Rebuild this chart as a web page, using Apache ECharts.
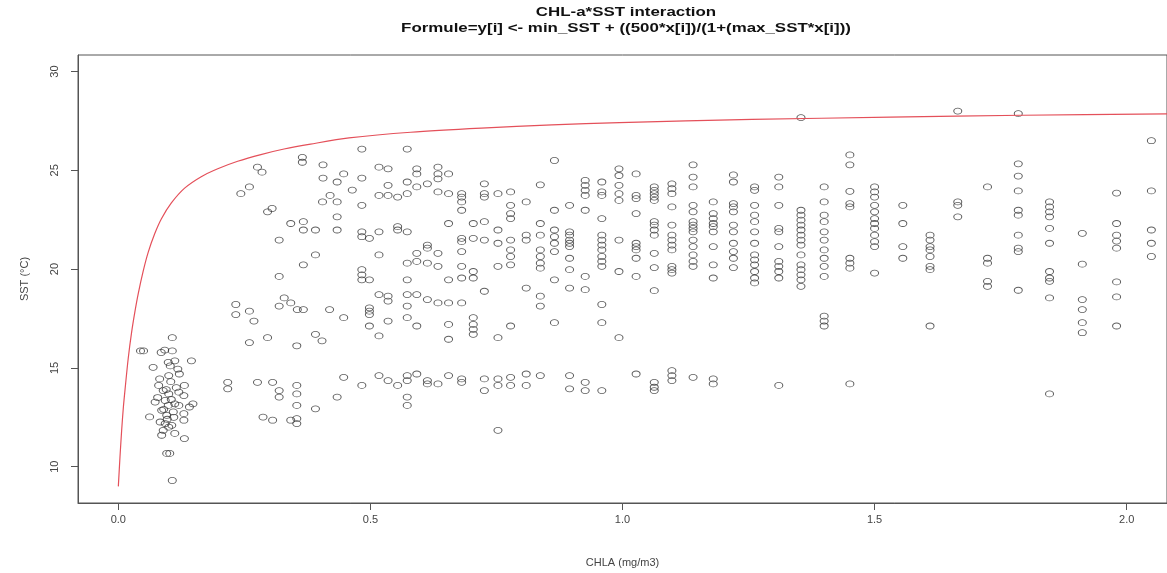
<!DOCTYPE html>
<html>
<head>
<meta charset="utf-8">
<title>CHL-a*SST interaction</title>
<script src="https://cdn.jsdelivr.net/npm/echarts@6/dist/echarts.min.js"></script>
<style>
  html, body { margin: 0; padding: 0; background: #fff; }
  #main { width: 1167px; height: 573px; }
</style>
</head>
<body>
<div id="main"></div>
<script>
// tick positions of the R plot
const xTicks = [0, 0.5, 1, 1.5, 2];
const yTicks = [10, 15, 20, 25, 30];

// red fitted curve
const curveChla = [0, 0.0033, 0.0066, 0.0099, 0.0131, 0.0197, 0.0263, 0.0329, 0.0394, 0.0493, 0.0592,
  0.0723, 0.0855, 0.1052, 0.1315, 0.1644, 0.1972, 0.2367, 0.2827, 0.3287, 0.3813, 0.4576, 0.58, 0.72,
  0.86, 0.994, 1.257, 1.531, 1.793, 2.08];
const curveSst = [9.0, 10.5, 11.84, 12.98, 13.85, 15.5, 16.8, 17.85, 18.75, 19.9, 20.85,
  21.8, 22.55, 23.35, 24.1, 24.68, 25.08, 25.46, 25.8, 26.08, 26.33, 26.64, 26.93, 27.14,
  27.3, 27.42, 27.58, 27.69, 27.79, 27.86];

// low chla cluster (x ~ 0.1)
const clusterLow = [
  [0.044, 15.86], [0.05, 15.86], [0.107, 16.53], [0.085, 15.78], [0.107, 15.86], [0.099, 15.28],
  [0.112, 15.36], [0.118, 14.94], [0.145, 15.36], [0.069, 15.03], [0.121, 14.69], [0.082, 14.44],
  [0.1, 14.61], [0.08, 14.11], [0.131, 14.11], [0.089, 13.85], [0.1, 13.68], [0.12, 13.77],
  [0.13, 13.6], [0.148, 13.18], [0.073, 13.27], [0.093, 13.35], [0.099, 13.1], [0.112, 13.18],
  [0.141, 13.02], [0.086, 12.85], [0.062, 12.52], [0.096, 12.6], [0.109, 12.77], [0.13, 12.68],
  [0.13, 12.35], [0.083, 12.26], [0.093, 12.18], [0.106, 12.09], [0.089, 11.84], [0.112, 11.68],
  [0.086, 11.59], [0.131, 11.42], [0.096, 10.67], [0.102, 10.67], [0.107, 9.3], [0.095, 13.9],
  [0.104, 14.3], [0.09, 12.9], [0.11, 12.5], [0.1, 12.0], [0.12, 13.1], [0.078, 13.5],
  [0.115, 14.0], [0.092, 15.9], [0.103, 15.1], [0.097, 12.4], [0.105, 13.4]
];

// scattered points between 0.2 and 0.47
const scatterLeft = [
  [0.276, 25.16], [0.285, 24.91], [0.243, 23.82], [0.26, 24.16], [0.296, 22.9], [0.305, 23.07],
  [0.365, 25.66], [0.365, 25.41], [0.406, 25.28], [0.406, 24.61], [0.434, 24.41], [0.447, 24.82],
  [0.42, 23.73], [0.434, 23.4], [0.405, 23.4], [0.434, 22.65], [0.434, 21.98], [0.342, 22.31],
  [0.367, 22.4], [0.367, 21.98], [0.391, 21.98], [0.319, 21.47], [0.391, 20.72], [0.367, 20.22],
  [0.319, 19.63], [0.233, 18.21], [0.233, 17.7], [0.26, 17.87], [0.269, 17.37], [0.319, 18.13],
  [0.329, 18.54], [0.342, 18.29], [0.355, 17.95], [0.367, 17.95], [0.391, 16.7], [0.404, 16.37],
  [0.419, 17.95], [0.447, 17.54], [0.26, 16.28], [0.296, 16.53], [0.354, 16.12], [0.447, 14.52],
  [0.217, 14.27], [0.217, 13.94], [0.276, 14.27], [0.306, 14.27], [0.319, 13.85], [0.319, 13.52],
  [0.354, 14.11], [0.354, 13.68], [0.354, 13.1], [0.287, 12.51], [0.306, 12.35], [0.342, 12.35],
  [0.354, 12.43], [0.354, 12.18], [0.391, 12.93], [0.434, 13.52], [0.464, 24.0]
];

// the vertical columns of points (one chla value, several sst values)
const columnChla = [0.483, 0.498, 0.517, 0.535, 0.554, 0.573, 0.592, 0.613, 0.634, 0.655, 0.681, 0.704,
  0.726, 0.753, 0.778, 0.809, 0.837, 0.865, 0.895, 0.926, 0.959, 0.993, 1.027, 1.063, 1.098, 1.14,
  1.18, 1.22, 1.262, 1.31, 1.354, 1.40, 1.451, 1.50, 1.556, 1.61, 1.665, 1.724, 1.785, 1.847, 1.912,
  1.98, 2.049];
const columnSst = [
  [26.08, 24.61, 23.23, 21.89, 21.64, 19.97, 19.71, 19.46, 14.11],
  [21.56, 19.46, 18.04, 17.87, 17.70, 17.12],
  [25.16, 23.73, 21.89, 20.72, 18.71, 16.62, 14.61],
  [25.08, 24.24, 23.73, 18.63, 18.38, 17.37, 14.36],
  [23.65, 22.15, 21.98, 14.11],
  [26.08, 24.41, 23.82, 21.89, 20.30, 19.46, 18.71, 18.13, 17.54, 14.61, 14.36, 13.52, 13.10],
  [25.08, 24.82, 24.16, 20.80, 20.39, 18.71, 17.12, 14.69],
  [24.32, 21.22, 21.06, 20.30, 18.46, 14.36, 14.19],
  [25.16, 24.82, 24.57, 23.91, 20.80, 20.14, 18.29, 14.19],
  [24.82, 23.82, 22.31, 19.46, 18.29, 17.20, 16.45, 14.61],
  [23.82, 23.65, 23.40, 22.98, 21.56, 21.39, 20.89, 20.14, 19.55, 18.29, 14.44, 14.27],
  [22.31, 21.56, 19.88, 19.55, 17.54, 17.20, 16.95, 16.70],
  [24.32, 23.82, 23.65, 22.40, 21.47, 18.88, 14.44, 13.85],
  [23.82, 21.98, 21.31, 20.14, 16.53, 14.44, 14.11, 11.84],
  [23.91, 23.23, 22.81, 22.56, 21.47, 20.97, 20.64, 20.22, 17.12, 14.52, 14.11],
  [23.40, 21.72, 21.47, 19.04, 14.69, 14.11],
  [24.27, 22.31, 21.72, 20.97, 20.64, 20.30, 20.05, 18.63, 18.13, 14.61],
  [25.50, 22.98, 21.98, 21.64, 21.31, 20.89, 19.46, 17.29],
  [23.23, 21.89, 21.72, 21.47, 21.31, 21.14, 20.55, 19.97, 19.04, 14.61, 13.94],
  [24.49, 24.24, 23.99, 23.73, 22.98, 19.63, 18.96, 14.27, 13.85],
  [24.41, 23.91, 23.73, 22.56, 21.72, 21.47, 21.22, 20.97, 20.64, 20.39, 20.14, 18.21, 17.29, 13.85],
  [25.08, 24.74, 24.24, 23.82, 23.48, 21.47, 19.88, 16.53],
  [24.82, 23.73, 23.57, 22.81, 21.31, 21.14, 20.97, 20.55, 19.63, 14.69],
  [24.16, 23.99, 23.82, 23.65, 23.48, 22.40, 22.23, 21.98, 21.72, 20.80, 20.08, 18.91, 14.27, 14.02, 13.85],
  [24.32, 24.07, 23.82, 23.15, 22.23, 21.72, 21.47, 21.22, 20.97, 20.14, 19.97, 19.80, 14.86, 14.61, 14.36],
  [25.28, 24.66, 24.16, 23.23, 22.90, 22.40, 22.23, 22.06, 21.89, 21.47, 21.14, 20.72, 20.39, 20.14, 14.52],
  [23.40, 22.81, 22.56, 22.31, 22.15, 21.89, 21.14, 20.22, 19.55, 14.44, 14.19],
  [24.77, 24.41, 23.32, 23.15, 22.90, 22.23, 21.89, 21.31, 20.89, 20.55, 20.08],
  [24.16, 23.99, 23.23, 22.73, 22.40, 21.89, 21.31, 20.72, 20.47, 20.22, 19.88, 19.55, 19.30],
  [24.66, 24.16, 23.23, 22.06, 21.89, 21.14, 20.39, 20.14, 19.88, 19.55, 14.11],
  [27.67, 22.98, 22.73, 22.48, 22.23, 21.98, 21.72, 21.47, 21.22, 20.72, 20.22, 19.97, 19.71, 19.46, 19.13],
  [24.16, 23.40, 22.73, 22.40, 21.89, 21.47, 20.97, 20.55, 20.14, 19.63, 17.62, 17.37, 17.12],
  [25.78, 25.28, 23.94, 23.32, 23.15, 20.55, 20.30, 20.05, 14.19],
  [24.16, 23.91, 23.65, 23.23, 22.90, 22.56, 22.31, 22.06, 21.72, 21.39, 21.14, 19.80],
  [23.23, 22.31, 21.14, 20.55],
  [21.72, 21.47, 21.14, 20.97, 20.64, 20.14, 19.97, 17.12],
  [28.0, 23.40, 23.23, 22.65],
  [24.16, 20.55, 20.30, 19.38, 19.13],
  [27.87, 25.33, 24.71, 23.96, 22.98, 22.73, 21.72, 21.06, 20.89, 18.93],
  [23.40, 23.15, 22.90, 22.65, 22.06, 21.31, 19.88, 19.55, 19.38, 18.54, 13.68],
  [21.81, 20.25, 18.46, 17.95, 17.29, 16.78],
  [23.85, 22.31, 21.72, 21.42, 21.06, 19.35, 18.59, 17.12],
  [26.5, 23.96, 21.98, 21.31, 20.64]
];

// build the [x, y] pairs for the library
const points = clusterLow.concat(scatterLeft);
columnChla.forEach(function (x, i) {
  columnSst[i].forEach(function (y) {
    points.push([x, y]);
  });
});
const curve = curveChla.map(function (x, i) {
  return [x, curveSst[i]];
});

const font = "Liberation Sans, Arial, sans-serif";
const titleStyle = {
  fontFamily: font,
  fontSize: 13,
  fontWeight: "bold",
  fill: "#111",
  textAlign: "center",
  textVerticalAlign: "middle",
};

const myChart = echarts.init(document.getElementById("main"));
myChart.setOption({
  animation: false,
  backgroundColor: "#fff",
  textStyle: { fontFamily: font },
  graphic: [
    {
      type: "text",
      x: 626,
      y: 12,
      scaleX: 1.3,
      style: Object.assign({ text: "CHL-a*SST interaction" }, titleStyle),
    },
    {
      type: "text",
      x: 626,
      y: 28,
      scaleX: 1.3,
      style: Object.assign({ text: "Formule=y[i] <- min_SST + ((500*x[i])/(1+(max_SST*x[i]))" }, titleStyle),
    },
  ],
  grid: {
    left: 78,
    top: 55,
    width: 1096,
    height: 452,
    show: true,
    borderColor: "#555",
    borderWidth: 1,
    backgroundColor: "transparent",
  },
  xAxis: {
    type: "value",
    min: -0.08,
    max: 2.08,
    splitLine: { show: false },
    axisLine: { show: true, onZero: false, lineStyle: { color: "#555" } },
    axisTick: {
      show: true,
      length: 7,
      customValues: xTicks,
      lineStyle: { color: "#555" },
    },
    axisLabel: {
      customValues: xTicks,
      formatter: function (v) {
        return v.toFixed(1);
      },
      margin: 11,
      color: "#444",
      fontSize: 11,
    },
    name: "CHLA (mg/m3)",
    nameLocation: "middle",
    nameGap: 54,
    nameTextStyle: { color: "#444", fontSize: 11 },
  },
  yAxis: {
    type: "value",
    min: 8.16,
    max: 30.84,
    splitLine: { show: false },
    axisLine: { show: true, onZero: false, lineStyle: { color: "#555" } },
    axisTick: {
      show: true,
      length: 7,
      customValues: yTicks,
      lineStyle: { color: "#555" },
    },
    axisLabel: {
      customValues: yTicks,
      rotate: 90,
      margin: 18,
      color: "#444",
      fontSize: 11,
    },
    name: "SST (°C)",
    nameLocation: "middle",
    nameGap: 48,
    nameTextStyle: { color: "#444", fontSize: 11 },
  },
  series: [
    {
      name: "obs",
      type: "scatter",
      data: points,
      symbol: "circle",
      symbolSize: [8, 6],
      itemStyle: {
        color: "transparent",
        borderColor: "#333",
        borderWidth: 0.9,
      },
    },
    {
      name: "fit",
      type: "line",
      data: curve,
      smooth: 0.3,
      showSymbol: false,
      lineStyle: { color: "#e4505a", width: 1.2 },
    },
  ],
});
</script>
</body>
</html>
